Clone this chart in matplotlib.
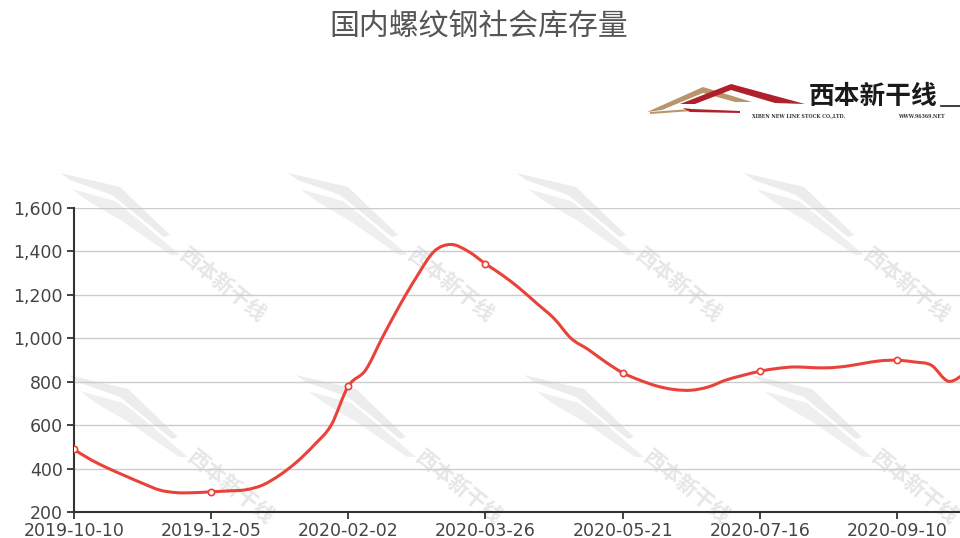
import matplotlib
matplotlib.use("Agg")
import matplotlib.pyplot as plt
from matplotlib.path import Path
from matplotlib.patches import PathPatch, Polygon
from matplotlib.transforms import IdentityTransform

plt.rcParams["font.family"] = ["Noto Sans CJK SC", "DejaVu Sans"]

# --- donnees (lecture du graphique, une valeur par semaine) -------------------
tick_labels = ["2019-10-10", "2019-12-05", "2020-02-02", "2020-03-26",
               "2020-05-21", "2020-07-16", "2020-09-10"]
stock = [488, 440, 401, 366, 332, 301, 289, 289, 293, 297,
         302, 324, 370, 431, 508, 600, 780, 853, 1006, 1152,
         1285, 1400, 1432, 1400, 1343, 1290, 1229, 1160, 1091, 999,
         948, 891, 841, 807, 780, 764, 761, 776, 807, 829,
         848, 861, 868, 865, 864, 871, 884, 896, 899, 891,
         876, 802, 840]
label_step = 8

W, H = 960, 538
RED = "#e8423a"
TR = IdentityTransform()

fig = plt.figure(figsize=(W / 100, H / 100), dpi=100)
ax = fig.add_axes([74 / W, (H - 512) / H, 1 - 74 / W, (512 - 208) / H])

n = len(stock)
xs = list(range(n))

# courbe lissee (Catmull-Rom -> Bezier), comme le "smooth" d'echarts
verts = [(xs[0], stock[0])]
codes = [Path.MOVETO]
for i in range(n - 1):
    p0 = max(i - 1, 0)
    p3 = min(i + 2, n - 1)
    c1 = (xs[i] + (xs[i + 1] - xs[p0]) / 6, stock[i] + (stock[i + 1] - stock[p0]) / 6)
    c2 = (xs[i + 1] - (xs[p3] - xs[i]) / 6, stock[i + 1] - (stock[p3] - stock[i]) / 6)
    verts += [c1, c2, (xs[i + 1], stock[i + 1])]
    codes += [Path.CURVE4] * 3
ax.add_patch(PathPatch(Path(verts, codes), fill=False, ec=RED, lw=2.2, zorder=3,
                       capstyle="round", joinstyle="round"))

mk = list(range(0, n, label_step))
ax.plot(mk, [stock[i] for i in mk], ls="none", marker="o", ms=4.5, mfc="white",
        mec=RED, mew=1.2, zorder=4)

ax.set_xlim(0, (W - 74) / ((897 - 74) / 48))
ax.set_ylim(200, 1600)
ax.set_yticks(range(200, 1601, 200))
ax.set_yticklabels([f"{v:,}" for v in range(200, 1601, 200)], family="DejaVu Sans")
ax.set_xticks(mk)
ax.set_xticklabels(tick_labels[:len(mk)], family="DejaVu Sans")
ax.tick_params(axis="both", colors="#333333", labelsize=12.5, length=5, width=1.3,
               labelcolor="#444444")
ax.tick_params(axis="x", pad=2)
ax.tick_params(axis="y", pad=3)
ax.grid(axis="y", color="#cccccc", lw=1)
ax.set_axisbelow(True)
for s in ["top", "right"]:
    ax.spines[s].set_visible(False)
for s in ["left", "bottom"]:
    ax.spines[s].set_color("#333333")
    ax.spines[s].set_linewidth(1.5)


def px(x, y):
    return (x, H - y)


# filigranes "西本新干线" (sous les axes et la courbe)
wm_shapes = [
    ([(0, 0), (60, 14), (110, 62), (104, 64), (52, 22), (10, 7)], "#ececec"),
    ([(12, 16), (55, 28), (80, 48), (120, 82), (111, 82), (62, 48), (28, 28)], "#efefef"),
]
for row, (y0, dx) in enumerate([(173, 0), (375, 8)]):
    for k in range(4):
        x0 = 60 + dx + 228 * k
        for pts, col in wm_shapes:
            ax.add_patch(Polygon([px(x0 + a, y0 + b) for a, b in pts], closed=True,
                                 fc=col, ec="none", transform=TR, clip_on=False,
                                 zorder=0.3))
        ax.text(*px(x0 + 163, y0 + 112), "西本新干线", transform=TR, rotation=-39,
                ha="center", va="center", fontsize=15, fontweight="bold",
                color="#e6e6e6", zorder=0.35, clip_on=False)

# titre
fig.text(479 / W, 1 - 26 / H, "国内螺纹钢社会库存量", ha="center", va="center",
         fontsize=21.5, color="#555555")

# logo
logo_shapes = [
    ([(647, 112), (703, 87), (752, 102), (735, 102), (703, 93), (662, 110)], "#b8956a"),
    ([(650, 112), (690, 109), (692, 111), (650, 114)], "#b8956a"),
    ([(680, 104), (731, 84), (805, 104), (775, 103), (731, 90), (695, 104)], "#b01f2c"),
    ([(683, 108), (692, 109), (740, 111), (740, 113), (690, 112)], "#b01f2c"),
]
for pts, col in logo_shapes:
    fig.add_artist(Polygon([px(a, b) for a, b in pts], closed=True, fc=col, ec="none",
                           transform=TR))
fig.text(*px(809, 96), "西本新干线", transform=TR, ha="left", va="center", fontsize=18.5,
         fontweight="bold", color="#1a1a1a")
fig.add_artist(plt.Line2D([941, 960], [H - 106, H - 106], color="#1a1a1a", lw=1.2,
                          transform=TR))
fig.text(*px(752, 116), "XIBEN NEW LINE STOCK CO.,LTD.", transform=TR, ha="left",
         va="center", fontsize=3.4, color="#333333", family="DejaVu Serif",
         fontweight="bold")
fig.text(*px(898, 116), "WWW.96369.NET", transform=TR, ha="left", va="center",
         fontsize=3.4, color="#333333", family="DejaVu Serif", fontweight="bold")

fig.savefig("out.png", dpi=100)
